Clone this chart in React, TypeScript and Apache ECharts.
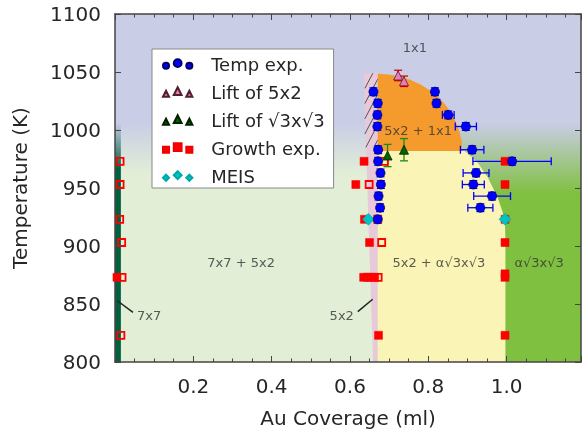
import React, { useEffect, useRef } from 'react';
import * as echarts from 'echarts';

// ---------- axis ticks ----------
const X_TICK_LABELS = ['0.2', '0.4', '0.6', '0.8', '1.0'];
const Y_TICK_LABELS = ['800', '850', '900', '950', '1000', '1050', '1100'];

// ---------- Temp exp. (coverage, T, x error, T error) ----------
const TEMP_COVERAGE = [0.660, 0.671, 0.670, 0.670, 0.672, 0.672, 0.678, 0.679, 0.673, 0.677, 0.671,
  0.817, 0.821, 0.851, 0.896, 0.912, 1.014, 0.922, 0.915, 0.963, 0.933];
const TEMP_T = [1033, 1023, 1013, 1003, 983, 973, 963, 953, 943, 933, 923,
  1033, 1023, 1013, 1003, 983, 973, 963, 953, 943, 933];
const TEMP_XERR = [0, 0, 0, 0, 0, 0, 0, 0, 0, 0, 0,
  0, 0, 0.015, 0.027, 0.030, 0.100, 0.033, 0.028, 0.047, 0.032];
const TEMP_TERR = [3.3, 3.3, 3.3, 3.3, 3.3, 3.3, 3.3, 3.3, 3.3, 3.3, 3.3,
  3.3, 3.3, 3.3, 3.3, 3.3, 3.3, 3.3, 3.3, 3.3, 3.3];

// ---------- Lift of 5x2 ----------
const LIFT52_COVERAGE = [0.723, 0.738];
const LIFT52_T = [1047, 1042];
const LIFT52_TERR = [4.5, 4.5];

// ---------- Lift of √3x√3 ----------
const LIFTR3_COVERAGE = [0.696, 0.738];
const LIFTR3_T = [978, 983];
const LIFTR3_TERR = [9.6, 9.6];

// ---------- Growth exp. ----------
const GROWTH_FILLED_COVERAGE = [0.005, 0.636, 0.615, 0.637, 0.671, 0.650, 0.635, 0.645, 0.655, 0.663, 0.673,
  0.996, 0.996, 0.996, 0.996, 0.996, 0.996, 0.996];
const GROWTH_FILLED_T = [873, 973, 953, 923, 923, 903, 873, 873, 873, 873, 823,
  973, 953, 923, 903, 873, 876, 823];
const GROWTH_OPEN_COVERAGE = [0.013, 0.013, 0.012, 0.017, 0.018, 0.015, 0.688, 0.649, 0.681, 0.672];
const GROWTH_OPEN_T = [973, 953, 923, 903, 873, 823, 973, 953, 903, 873];

// ---------- MEIS ----------
const MEIS_COVERAGE = [0.647, 0.996];
const MEIS_T = [923, 923];

// ---------- phase regions (coverage, T) ----------
const REGION_7X7_5X2: number[][] = [[0, 800], [0.671, 800], [0.671, 1006], [0, 1006]];
const REGION_ROOT3: number[][] = [[0.671, 800], [1.19, 800], [1.19, 1006], [0.671, 1006]];
const REGION_7X7: number[][] = [[0, 800], [0.015, 800], [0.015, 1006], [0, 1006]];
const REGION_5X2: number[][] = [[0.659, 800], [0.671, 800], [0.671, 1049], [0.635, 1049]];
const REGION_5X2_1X1: number[][] = [[0.671, 982], [0.671, 1048.4], [0.699, 1047.8], [0.727, 1046.1],
  [0.754, 1043.3], [0.779, 1039.5], [0.802, 1034.7], [0.824, 1029.0], [0.842, 1022.4], [0.858, 1015.2],
  [0.870, 1007.4], [0.879, 999.2], [0.885, 990.7], [0.887, 982]];
const REGION_5X2_ROOT3: number[][] = [[0.671, 800], [0.671, 982], [0.893, 982], [0.926, 972], [0.952, 959],
  [0.977, 942], [0.990, 929], [0.996, 918], [0.997, 905], [0.997, 800]];
const HATCH_T_RANGE = [985, 1049];

// ---------- annotations ----------
const ANNOTATION_TEXT = ['1x1', '5x2 + 1x1', '7x7 + 5x2', '7x7', '5x2', '5x2 + α√3x√3', 'α√3x√3'];
const ANNOTATION_COVERAGE = [0.766, 0.774, 0.322, 0.087, 0.579, 0.827, 1.083];
const ANNOTATION_T = [1071, 1000, 886, 840.5, 840.5, 886, 886];
const LEADER_7X7 = [[0.006, 852.8], [0.046, 842.8]];
const LEADER_5X2 = [[0.620, 843.4], [0.658, 854.1]];

// ---------- styles ----------
const FONT = 'DejaVu Sans';
const LAVENDER = '#c9cde6';
const AXIS_COLOR = '#444';
const TEXT_COLOR = '#262626';

const REGION_STYLES = [
  { points: REGION_7X7_5X2, color: '#e2eed6', gradient: [1006, 962] },
  { points: REGION_ROOT3, color: '#80c040', gradient: [1006, 945] },
  { points: REGION_7X7, color: '#006040', gradient: [1006, 966] },
  { points: REGION_5X2, color: '#e8c9d9', hatch: true },
  { points: REGION_5X2_1X1, color: '#f59b2d' },
  { points: REGION_5X2_ROOT3, color: '#faf5b6' },
];

const circlePath = (cx: number, cy: number, r: number) =>
  `M${cx - r} ${cy}a${r} ${r} 0 1 0 ${2 * r} 0a${r} ${r} 0 1 0 ${-2 * r} 0Z`;
const triPath = (cx: number, cy: number, r: number) =>
  `M${cx - r} ${cy + r}L${cx} ${cy - r}L${cx + r} ${cy + r}Z`;
const sqPath = (cx: number, cy: number, r: number) =>
  `M${cx - r} ${cy - r}L${cx + r} ${cy - r}L${cx + r} ${cy + r}L${cx - r} ${cy + r}Z`;
const diaPath = (cx: number, cy: number, r: number) =>
  `M${cx} ${cy - r}L${cx + r} ${cy}L${cx} ${cy + r}L${cx - r} ${cy}Z`;
const tripleIcon = (f: (cx: number, cy: number, r: number) => string) =>
  'path://' + f(3.5, 7.5, 3.5) + f(17, 4.5, 4.5) + f(30.5, 7.5, 3.5);

function errorBarSeries(name: string, xs: number[], ts: number[], xerr: number[], terr: number[], color: string) {
  return {
    type: 'custom',
    name,
    silent: true,
    z: 3,
    encode: { x: 0, y: 1 },
    data: xs.map((x, i) => [x, ts[i], xerr[i], terr[i]]),
    renderItem: (_params: any, api: any) => {
      const x = api.value(0), y = api.value(1), xe = api.value(2), ye = api.value(3);
      const style = { stroke: color, lineWidth: 1.3 };
      const children: any[] = [];
      const cap = 4;
      if (xe > 0) {
        const l = api.coord([x - xe, y]);
        const r = api.coord([x + xe, y]);
        children.push({ type: 'line', shape: { x1: l[0], y1: l[1], x2: r[0], y2: r[1] }, style });
        children.push({ type: 'line', shape: { x1: l[0], y1: l[1] - cap, x2: l[0], y2: l[1] + cap }, style });
        children.push({ type: 'line', shape: { x1: r[0], y1: r[1] - cap, x2: r[0], y2: r[1] + cap }, style });
      }
      if (ye > 0) {
        const b = api.coord([x, y - ye]);
        const t = api.coord([x, y + ye]);
        children.push({ type: 'line', shape: { x1: b[0], y1: b[1], x2: t[0], y2: t[1] }, style });
        children.push({ type: 'line', shape: { x1: b[0] - cap, y1: b[1], x2: b[0] + cap, y2: b[1] }, style });
        children.push({ type: 'line', shape: { x1: t[0] - cap, y1: t[1], x2: t[0] + cap, y2: t[1] }, style });
      }
      return { type: 'group', children };
    },
  };
}

function buildOption() {
  const regionSeries = {
    type: 'custom',
    name: 'regions',
    silent: true,
    z: 0,
    encode: { x: 0, y: 1 },
    data: REGION_STYLES.map((r) => [r.points[0][0], r.points[0][1]]),
    renderItem: (params: any, api: any) => {
      const reg: any = REGION_STYLES[params.dataIndex];
      const pts = reg.points.map((p: number[]) => api.coord(p));
      let fill: any = reg.color;
      if (reg.gradient) {
        const y0 = api.coord([0, reg.gradient[0]])[1];
        const y1 = api.coord([0, reg.gradient[1]])[1];
        fill = new echarts.graphic.LinearGradient(0, y0, 0, y1, [
          { offset: 0, color: LAVENDER },
          { offset: 1, color: reg.color },
        ], true);
      }
      const children: any[] = [{ type: 'polygon', shape: { points: pts }, style: { fill, stroke: null } }];
      if (reg.hatch) {
        const top = HATCH_T_RANGE[1], bot = HATCH_T_RANGE[0];
        const mid = (top + bot) / 2;
        const p0 = reg.points[0], p3 = reg.points[3];
        const xLdata = p0[0] + (p3[0] - p0[0]) * (mid - p0[1]) / (p3[1] - p0[1]);
        const xL = api.coord([xLdata, mid])[0];
        const xR = api.coord([reg.points[1][0], mid])[0];
        const yTop = api.coord([0, top])[1];
        const yBot = api.coord([0, bot])[1];
        const slope = 1.9;
        const step = 8;
        const tMaxY = (yBot - yTop) / slope;
        for (let xs = xL - tMaxY; xs < xR; xs += step) {
          const t0 = Math.max(xL - xs, 0);
          const t1 = Math.min(xR - xs, tMaxY);
          if (t1 > t0) {
            children.push({
              type: 'line',
              shape: { x1: xs + t0, y1: yBot - slope * t0, x2: xs + t1, y2: yBot - slope * t1 },
              style: { stroke: '#555', lineWidth: 1 },
            });
          }
        }
      }
      return { type: 'group', children };
    },
  };

  const annotationSeries = {
    type: 'scatter',
    name: 'annotations',
    silent: true,
    z: 1,
    symbolSize: 0,
    data: ANNOTATION_TEXT.map((t, i) => ({ name: t, value: [ANNOTATION_COVERAGE[i], ANNOTATION_T[i]] })),
    label: {
      show: true,
      position: 'inside',
      formatter: (p: any) => p.name,
      color: '#333',
      fontSize: 13,
      fontFamily: FONT,
    },
  };

  const leader = (name: string, pts: number[][]) => ({
    type: 'line',
    name,
    silent: true,
    z: 1,
    symbol: 'none',
    data: pts,
    lineStyle: { color: '#222', width: 1.5 },
  });

  const growthData = [
    ...GROWTH_FILLED_COVERAGE.map((x, i) => ({ value: [x, GROWTH_FILLED_T[i]] })),
    ...GROWTH_OPEN_COVERAGE.map((x, i) => ({
      value: [x, GROWTH_OPEN_T[i]],
      itemStyle: { color: 'rgba(255,255,255,0)', borderColor: '#ff0000', borderWidth: 1.8 },
      symbolSize: 7,
    })),
  ];

  const axisCommon = {
    axisLine: { show: true, onZero: false, lineStyle: { color: AXIS_COLOR, width: 1.5 } },
    splitLine: { show: false },
  };

  return {
    animation: false,
    textStyle: { fontFamily: FONT },
    grid: {
      left: 115, right: 0, top: 14, bottom: 73,
      show: true, backgroundColor: LAVENDER, borderWidth: 0,
    },
    legend: {
      left: 152,
      top: 49,
      orient: 'vertical',
      backgroundColor: '#ffffff',
      borderColor: '#888',
      borderWidth: 1,
      borderRadius: 0,
      padding: [5, 9, 2, 10],
      itemGap: 8,
      itemWidth: 31,
      itemHeight: 9.5,
      textStyle: { fontSize: 18, color: TEXT_COLOR, fontFamily: FONT, lineHeight: 20, padding: [0, 0, 0, 13] },
      data: [
        { name: 'Temp exp.', icon: tripleIcon(circlePath) },
        { name: 'Lift of 5x2', icon: tripleIcon(triPath) },
        { name: 'Lift of √3x√3', icon: tripleIcon(triPath) },
        { name: 'Growth exp.', icon: tripleIcon(sqPath) },
        { name: 'MEIS', icon: tripleIcon(diaPath) },
      ],
      selectedMode: false,
    },
    xAxis: [
      {
        ...axisCommon,
        type: 'value',
        position: 'bottom',
        min: 0,
        max: 1.19,
        interval: 0.2,
        name: 'Au Coverage (ml)',
        nameLocation: 'middle',
        nameGap: 46,
        nameTextStyle: { fontSize: 20, color: TEXT_COLOR, fontFamily: FONT },
        axisTick: { show: true, inside: true, length: 6, lineStyle: { color: AXIS_COLOR, width: 1 } },
        minorTick: { show: true, splitNumber: 4, length: 3.5, lineStyle: { color: AXIS_COLOR, width: 1 } },
        axisLabel: {
          margin: 14,
          fontSize: 20,
          color: TEXT_COLOR,
          fontFamily: FONT,
          formatter: (v: number) => {
            const s = v.toFixed(1);
            return X_TICK_LABELS.includes(s) && Math.abs(v - parseFloat(s)) < 1e-6 ? s : '';
          },
        },
      },
      {
        ...axisCommon,
        type: 'value',
        position: 'top',
        min: 0,
        max: 1.19,
        interval: 0.2,
        axisTick: { show: true, inside: true, length: 6, lineStyle: { color: AXIS_COLOR, width: 1 } },
        minorTick: { show: true, splitNumber: 4, length: 3.5, lineStyle: { color: AXIS_COLOR, width: 1 } },
        axisLabel: { show: false },
      },
    ],
    yAxis: [
      {
        ...axisCommon,
        type: 'value',
        position: 'left',
        min: 800,
        max: 1100,
        interval: 50,
        name: 'Temperature (K)',
        nameLocation: 'middle',
        nameGap: 85,
        nameTextStyle: { fontSize: 20, color: TEXT_COLOR, fontFamily: FONT },
        axisTick: { show: true, inside: true, length: 6, lineStyle: { color: AXIS_COLOR, width: 1 } },
        axisLabel: {
          margin: 14,
          fontSize: 20,
          color: TEXT_COLOR,
          fontFamily: FONT,
          formatter: (v: number) => (Y_TICK_LABELS.includes(String(v)) ? String(v) : ''),
        },
      },
      {
        ...axisCommon,
        type: 'value',
        position: 'right',
        min: 800,
        max: 1100,
        interval: 50,
        axisTick: { show: true, inside: true, length: 6, lineStyle: { color: AXIS_COLOR, width: 1 } },
        axisLabel: { show: false },
      },
    ],
    series: [
      regionSeries,
      annotationSeries,
      leader('leader7x7', LEADER_7X7),
      leader('leader5x2', LEADER_5X2),
      {
        type: 'scatter',
        name: 'Growth exp.',
        z: 4,
        symbol: 'rect',
        symbolSize: 8,
        itemStyle: { color: '#ff0000', borderColor: '#ee0000', borderWidth: 0.5, opacity: 1 },
        data: growthData,
      },
      {
        type: 'scatter',
        name: 'MEIS',
        z: 5,
        symbol: 'diamond',
        symbolSize: 12,
        itemStyle: { color: '#00c4c4', borderColor: '#00a8a8', borderWidth: 0.5, opacity: 1 },
        data: MEIS_COVERAGE.map((x, i) => [x, MEIS_T[i]]),
      },
      errorBarSeries('tempErr', TEMP_COVERAGE, TEMP_T, TEMP_XERR, TEMP_TERR, '#0000ff'),
      {
        type: 'scatter',
        name: 'Temp exp.',
        z: 6,
        symbol: 'circle',
        symbolSize: 9,
        itemStyle: { color: '#0000ff', borderColor: '#000060', borderWidth: 0.8, opacity: 1 },
        data: TEMP_COVERAGE.map((x, i) => [x, TEMP_T[i]]),
      },
      errorBarSeries('lift52Err', LIFT52_COVERAGE, LIFT52_T, [0, 0], LIFT52_TERR, '#e00000'),
      {
        type: 'scatter',
        name: 'Lift of 5x2',
        z: 6,
        symbol: 'triangle',
        symbolSize: 9,
        itemStyle: { color: '#f07ab4', borderColor: '#502030', borderWidth: 0.8, opacity: 1 },
        data: LIFT52_COVERAGE.map((x, i) => [x, LIFT52_T[i]]),
      },
      errorBarSeries('liftR3Err', LIFTR3_COVERAGE, LIFTR3_T, [0, 0], LIFTR3_TERR, '#1a8a1a'),
      {
        type: 'scatter',
        name: 'Lift of √3x√3',
        z: 6,
        symbol: 'triangle',
        symbolSize: 9,
        itemStyle: { color: '#006400', borderColor: '#002000', borderWidth: 0.8, opacity: 1 },
        data: LIFTR3_COVERAGE.map((x, i) => [x, LIFTR3_T[i]]),
      },
    ],
  };
}

export default function App() {
  const ref = useRef<HTMLDivElement>(null);
  useEffect(() => {
    if (!ref.current) return;
    const chart = echarts.init(ref.current, null, { renderer: 'svg' });
    chart.setOption(buildOption() as any);
    return () => chart.dispose();
  }, []);
  return <div ref={ref} style={{ position: 'fixed', left: 0, top: 0, width: 584, height: 435 }} />;
}
